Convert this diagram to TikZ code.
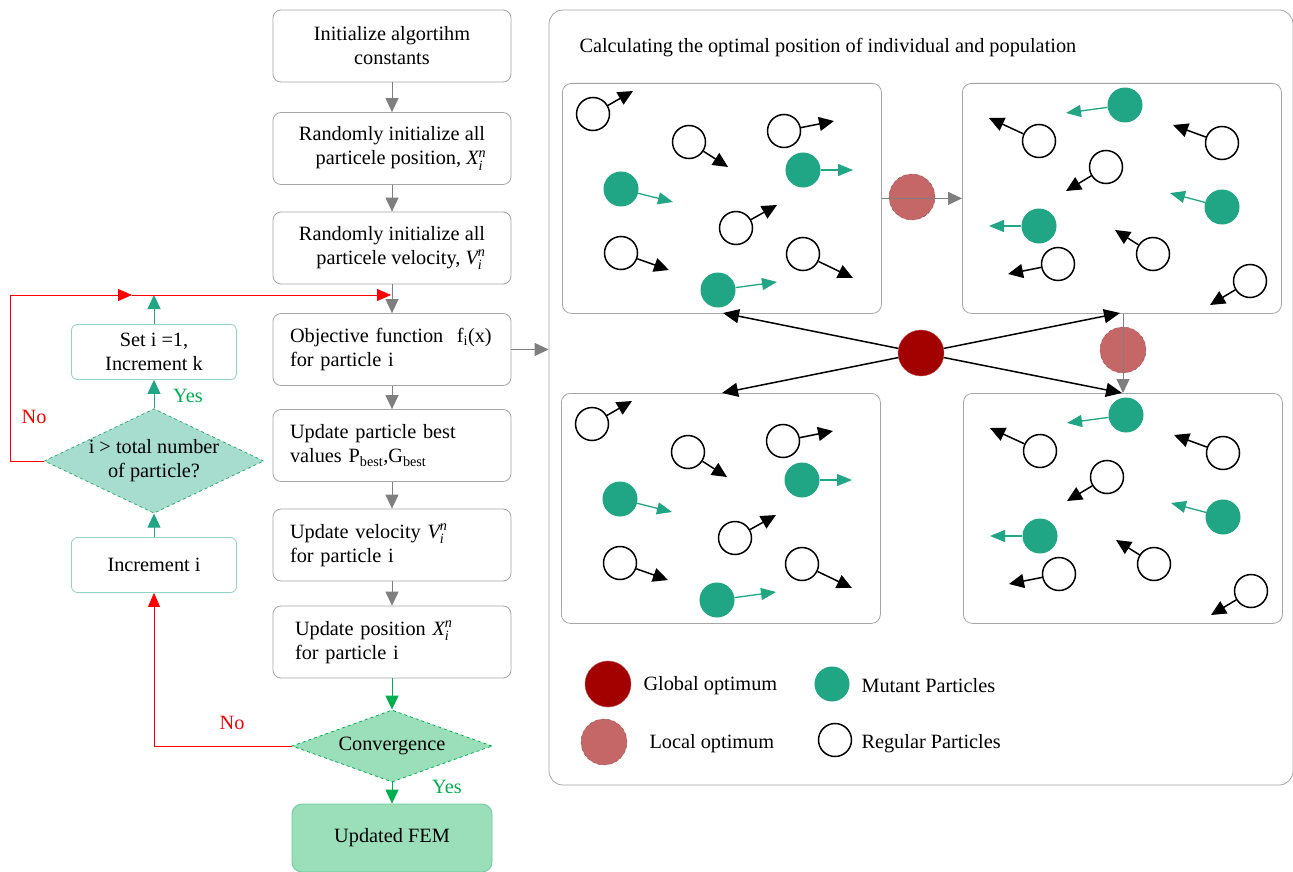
\documentclass[tikz,border=0pt]{standalone}
\usepackage{fontspec}
\setmainfont{Liberation Serif}
\usepackage{amsmath}
\usetikzlibrary{arrows.meta,shapes.geometric}

\definecolor{boxgray}{HTML}{A6A6A6}
\definecolor{flowgray}{HTML}{7F7F7F}
\definecolor{tealmut}{HTML}{21A685}
\definecolor{tealline}{HTML}{8FD4C4}
\definecolor{decfill}{HTML}{A6DDCF}
\definecolor{decline}{HTML}{2EAD6B}
\definecolor{convfill}{HTML}{9ADFBA}
\definecolor{convline}{HTML}{00B050}
\definecolor{femline}{HTML}{6CCB98}
\definecolor{globred}{HTML}{A30000}
\definecolor{locred}{HTML}{C66767}

\newcommand{\partvec}[1]{$\textit{#1}_{\text{\itshape i}}^{\text{\itshape n}}$}

\tikzset{
  every node/.style={font=\fontsize{20.3}{24}\selectfont},
  flowbox/.style={draw=boxgray, line width=0.8pt, rounded corners=8pt, minimum width=238pt, minimum height=72pt, align=center},
  flowboxl/.style={flowbox, align=left, text width=204pt},
  tealbox/.style={draw=tealline, line width=0.8pt, rounded corners=6pt, minimum width=165pt, minimum height=55pt, align=center},
  decbox/.style={diamond, shape aspect=2.1, draw=decline, dashed, fill=decfill, line width=0.8pt, minimum width=210pt, minimum height=100pt, inner sep=0pt, align=center},
  convbox/.style={diamond, shape aspect=2.8, draw=convline, dashed, fill=convfill, line width=0.8pt, minimum width=200pt, minimum height=72pt, inner sep=0pt},
  fembox/.style={draw=femline, fill=convfill, line width=0.8pt, rounded corners=10pt, minimum width=200pt, minimum height=68pt},
  panel/.style={draw=boxgray, line width=0.8pt, rounded corners=9pt, minimum width=319pt, minimum height=230pt, inner sep=0pt, anchor=north west},
  reg/.style={circle, draw=black, line width=1.5pt, fill=white, minimum size=33pt, inner sep=0pt},
  mut/.style={circle, fill=tealmut, minimum size=35pt, inner sep=0pt},
  regarr/.style={line width=1.5pt, -{Triangle[length=15pt,width=14pt]}},
  mutarr/.style={tealmut, line width=1.3pt, -{Triangle[length=15pt,width=12pt]}},
  globopt/.style={circle, fill=globred, draw=globred!70!white, minimum size=46pt, inner sep=0pt},
  locopt/.style={circle, fill=locred, draw=locred!75!black, dashed, minimum size=46pt, inner sep=0pt},
  grayarr/.style={flowgray, line width=1pt, -{Triangle[length=14pt,width=13pt]}},
  tealarr/.style={tealmut, line width=1pt, -{Triangle[length=14pt,width=13pt]}},
  greenarr/.style={convline, line width=1pt, -{Triangle[length=14pt,width=13pt]}},
  redline/.style={red, line width=0.8pt},
  redarr/.style={redline, -{Triangle[length=14pt,width=12pt]}},
  crossarr/.style={black, line width=1.5pt, -{Triangle[length=16pt,width=14pt]}},
  nolbl/.style={text=red},
  yeslbl/.style={text=convline}
}

% particles of the left and right panels
\newcommand{\regA}{31/31/71/8, 127/59/166/84, 222/48/272/38, 174/145/215/122, 59/170/107/187, 241/171/291/195}
\newcommand{\mutA}{59/106/111/119, 241/87/291/87, 156/207/215/199}
\newcommand{\regB}{77/58/27/35, 260/60/211/42, 144/84/104/108, 96/181/46/191, 191/171/153/147, 288/198/248/222}
\newcommand{\mutB}{163/22/104/30, 260/124/208/110, 77/143/27/143}

\begin{document}
\begin{tikzpicture}[x=1pt, y=-1pt]
\useasboundingbox[fill=white] (0,0) rectangle (1293,872);

% main column
\node[flowbox] (init) at (392,46) {Initialize algortihm\\constants};
\node[flowbox] (pos) at (392,148.5) {Randomly initialize all\\\hspace*{18pt}particele position, \partvec{X}};
\node[flowbox] (vel) at (392,248) {Randomly initialize all\\\hspace*{18pt}particele velocity, \partvec{V}};
\node[flowboxl] (obj) at (392,349.5) {Objective function \ f\textsubscript{i}(x)\\for particle i};
\node[flowboxl] (best) at (392,445.5) {Update particle best\\values P\textsubscript{best},G\textsubscript{best}};
\node[flowboxl] (upv) at (392,545) {Update velocity \partvec{V}\\for particle i};
\node[flowboxl] (upx) at (392,642) {\hspace*{5pt}Update position \partvec{X}\\\hspace*{5pt}for particle i};
\node[convbox] (conv) at (392,746) {Convergence};
\node[fembox] (fem) at (392,838) {Updated FEM};

% loop column
\node[tealbox] (seti) at (154,352) {Set i =1,\\Increment k};
\node[decbox] (more) at (154,461) {i > total number\\of particle?};
\node[tealbox] (inci) at (154,565) {Increment i};

\coordinate (lp) at (10,295);
\coordinate (rm) at (132,295);
\coordinate (jn) at (391,295);

\draw[grayarr] (init) -- (pos);
\draw[grayarr] (pos) -- (vel);
\draw[grayarr] (vel) -- (obj);
\draw[grayarr] (obj) -- (best);
\draw[grayarr] (best) -- (upv);
\draw[grayarr] (upv) -- (upx);
\draw[greenarr] (upx) -- (conv);
\draw[greenarr] (conv) -- (fem);

\draw[tealarr] (inci) -- (more);
\draw[tealarr] (more) -- (seti);
\draw[tealarr] (seti) -- (seti |- lp);

\draw[redarr] (more.west) -| (lp) -- (rm);
\draw[redarr] (rm) -- (jn);
\draw[redarr] (conv.west) -| (inci.south);

\node[nolbl] (no1) at (34,417) {No};
\node[yeslbl] (yes1) at (188,396) {Yes};
\node[nolbl] (no2) at (232,723) {No};
\node[yeslbl] (yes2) at (447,787) {Yes};

% right part
\node[draw=boxgray, line width=0.8pt, rounded corners=14pt, minimum width=744pt, minimum height=775pt, inner sep=0pt] (frame) at (921,397.5) {};
\node[anchor=west] (title) at (576,48) {Calculating the optimal position of individual and population};
\draw[grayarr] (obj.east) -- (obj.east -| frame.west);

\begin{scope}[shift={(562,83)}, name prefix=a-]
  \node[panel] (pan) at (0,0) {};
  \foreach \px/\py/\tx/\ty [count=\k] in \regA {
    \node[reg] (r\k) at (\px,\py) {};
    \draw[regarr] (r\k) -- (\tx,\ty);
  }
  \foreach \px/\py/\tx/\ty [count=\k] in \mutA {
    \node[mut] (m\k) at (\px,\py) {};
    \draw[mutarr] (m\k) -- (\tx,\ty);
  }
\end{scope}

\begin{scope}[shift={(962,83)}, name prefix=b-]
  \node[panel] (pan) at (0,0) {};
  \foreach \px/\py/\tx/\ty [count=\k] in \regB {
    \node[reg] (r\k) at (\px,\py) {};
    \draw[regarr] (r\k) -- (\tx,\ty);
  }
  \foreach \px/\py/\tx/\ty [count=\k] in \mutB {
    \node[mut] (m\k) at (\px,\py) {};
    \draw[mutarr] (m\k) -- (\tx,\ty);
  }
\end{scope}

\begin{scope}[shift={(561,393)}, name prefix=c-]
  \node[panel] (pan) at (0,0) {};
  \foreach \px/\py/\tx/\ty [count=\k] in \regA {
    \node[reg] (r\k) at (\px,\py) {};
    \draw[regarr] (r\k) -- (\tx,\ty);
  }
  \foreach \px/\py/\tx/\ty [count=\k] in \mutA {
    \node[mut] (m\k) at (\px,\py) {};
    \draw[mutarr] (m\k) -- (\tx,\ty);
  }
\end{scope}

\begin{scope}[shift={(963,393)}, name prefix=d-]
  \node[panel] (pan) at (0,0) {};
  \foreach \px/\py/\tx/\ty [count=\k] in \regB {
    \node[reg] (r\k) at (\px,\py) {};
    \draw[regarr] (r\k) -- (\tx,\ty);
  }
  \foreach \px/\py/\tx/\ty [count=\k] in \mutB {
    \node[mut] (m\k) at (\px,\py) {};
    \draw[mutarr] (m\k) -- (\tx,\ty);
  }
\end{scope}

% optima
\node[locopt] (loc1) at (912,197) {};
\node[locopt] (loc2) at (1123,350) {};
\draw[grayarr] (a-pan.east) -- (b-pan.west);
\draw[grayarr] (loc2 |- b-pan.south) -- (loc2 |- d-pan.north);

\node[globopt] (glob) at (921,353) {};
\coordinate (ta) at (723,313);
\coordinate (tb) at (1120,313);
\coordinate (tc) at (722,393);
\coordinate (td) at (1122,393);
\draw[crossarr] (glob) -- (ta);
\draw[crossarr] (glob) -- (tb);
\draw[crossarr] (glob) -- (tc);
\draw[crossarr] (glob) -- (td);

% legend
\node[globopt] (lg1) at (608,684) {};
\node[anchor=west] (lt1) at (640,686) {Global optimum};
\node[mut] (lg2) at (832,684) {};
\node[anchor=west] (lt2) at (858,686) {Mutant Particles};
\node[locopt] (lg3) at (604,742) {};
\node[anchor=west] (lt3) at (646,744) {Local optimum};
\node[reg] (lg4) at (835,740) {};
\node[anchor=west] (lt4) at (858,744) {Regular Particles};
\end{tikzpicture}
\end{document}
